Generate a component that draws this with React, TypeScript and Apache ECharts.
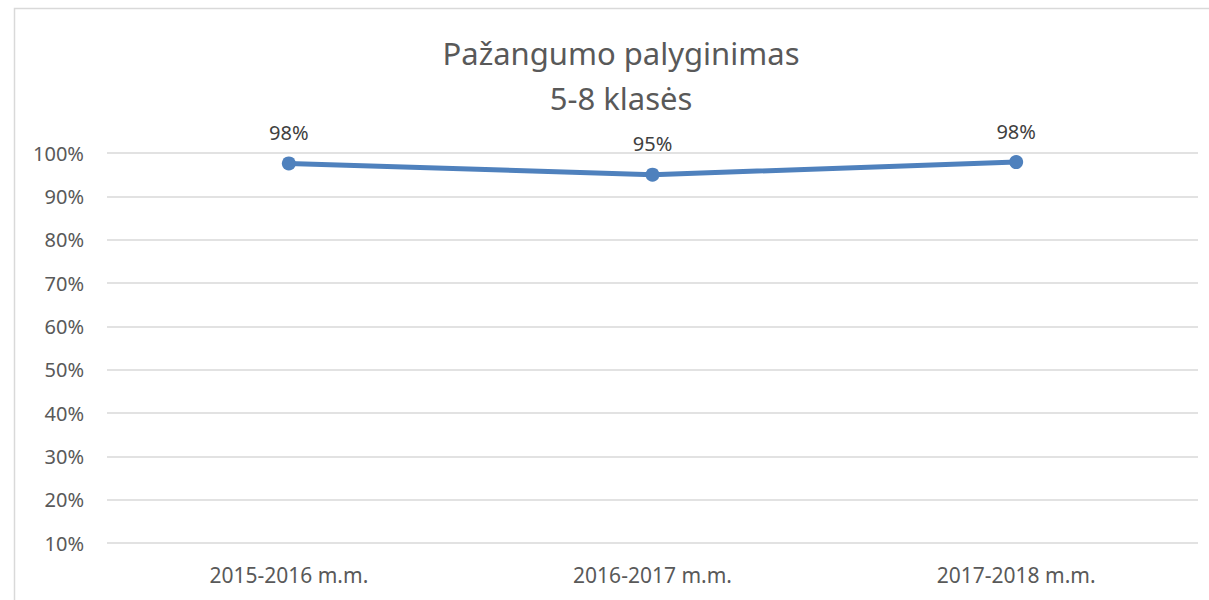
import React, { useEffect, useRef } from "react";
import * as echarts from "echarts";

const categories = ["2015-2016 m.m.", "2016-2017 m.m.", "2017-2018 m.m."];
const values = [97.6, 95.0, 97.9];
const titleLines = ["Pažangumo palyginimas", "5-8 klasės"];

export default function App() {
  const ref = useRef<HTMLDivElement>(null);
  useEffect(() => {
    if (!ref.current) return;
    const chart = echarts.init(ref.current, undefined, { renderer: "svg" });
    const font = "'Noto Sans', sans-serif";
    chart.setOption({
      animation: false,
      backgroundColor: "#ffffff",
      textStyle: { fontFamily: font },
      graphic: [
        {
          type: "rect",
          shape: { x: 14.5, y: 8.5, width: 1300, height: 700 },
          style: { fill: "none", stroke: "#d9d9d9", lineWidth: 1.5 },
          silent: true,
        },
        {
          type: "text",
          x: 621,
          y: 30,
          style: {
            text: titleLines.join("\n"),
            align: "center",
            verticalAlign: "top",
            fontSize: 31,
            lineHeight: 45,
            fontFamily: font,
            fill: "#595959",
          },
        },
      ],
      grid: { left: 107, right: 11, top: 153, bottom: 57, containLabel: false },
      xAxis: {
        type: "category",
        data: categories,
        boundaryGap: true,
        axisLine: { show: false },
        axisTick: { show: false },
        axisLabel: { color: "#595959", fontSize: 21, margin: 21, fontFamily: font },
      },
      yAxis: {
        type: "value",
        min: 10,
        max: 100,
        interval: 10,
        axisLine: { show: false },
        axisTick: { show: false },
        splitLine: { lineStyle: { color: "#d9d9d9", width: 1.5 } },
        axisLabel: {
          color: "#595959",
          fontSize: 20,
          margin: 23,
          fontFamily: font,
          formatter: "{value}%",
        },
      },
      series: [
        {
          type: "line",
          data: values,
          symbol: "circle",
          symbolSize: 14,
          lineStyle: { color: "#4f81bd", width: 5 },
          itemStyle: { color: "#4f81bd" },
          label: {
            show: true,
            position: "top",
            distance: 14,
            color: "#404040",
            fontSize: 20,
            fontFamily: font,
            formatter: (p: any) => Math.round(p.value) + "%",
          },
        },
      ],
    });
    return () => chart.dispose();
  }, []);
  return (
    <div
      ref={ref}
      style={{ position: "absolute", left: 0, top: 0, width: 1209, height: 600 }}
    />
  );
}
